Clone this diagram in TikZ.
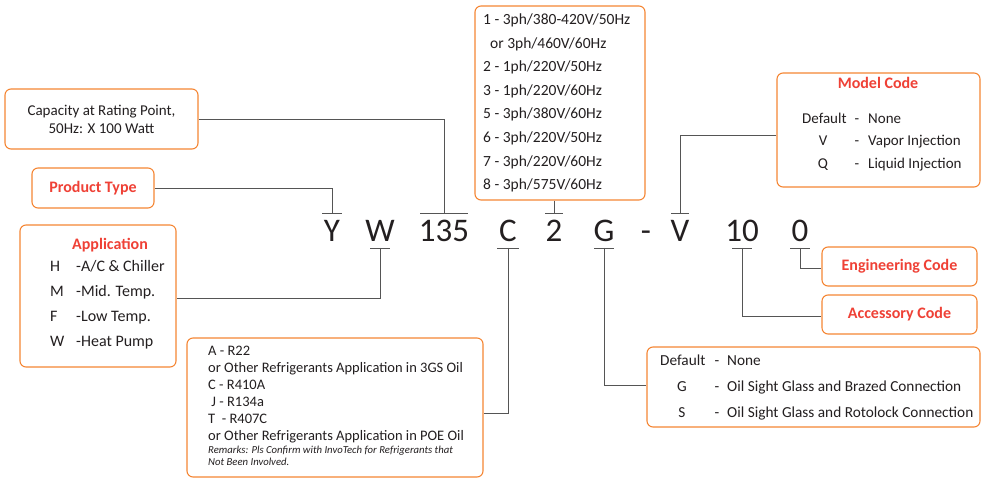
\documentclass[tikz,border=0pt]{standalone}
\usepackage{fontspec}
\setmainfont{Carlito}
\usetikzlibrary{calc, positioning}

\definecolor{boxorange}{HTML}{F58634}
\definecolor{titlered}{HTML}{EF4136}
\definecolor{linegray}{HTML}{555555}
\definecolor{textgray}{HTML}{231F20}

\begin{document}
\begin{tikzpicture}[
    x=1pt, y=-1pt,
    box/.style={draw=boxorange, line width=1.1pt, rounded corners=6pt, fill=white, align=center, text=textgray, font=\fontsize{15}{18}\selectfont},
    title/.style={text=titlered, font=\fontsize{16}{19}\selectfont\bfseries},
    row/.style={anchor=base west, inner sep=0pt, text=textgray, font=\fontsize{15}{18}\selectfont},
    key/.style={anchor=base, inner sep=0pt, text=textgray, font=\fontsize{15}{18}\selectfont},
    code/.style={anchor=base, inner sep=0pt, text=textgray, font=\fontsize{33}{36}\selectfont},
    link/.style={draw=linegray, line width=0.9pt}
]
    \useasboundingbox (0,0) rectangle (982,478);

    % Model string
    \node[code] (cY) at (332,242) {Y};
    \node[code] (cW) at (380,242) {W};
    \node[code] (cCap) at (444,242) {135};
    \node[code] (cC) at (508,242) {C};
    \node[code] (cV2) at (554,242) {2};
    \node[code] (cG) at (604,242) {G};
    \node[code] (cDash) at (646,242) {-};
    \node[code] (cV) at (680,242) {V};
    \node[code] (cAcc) at (742,242) {10};
    \node[code] (cEng) at (800,242) {0};

    % Bars above and below the string
    \coordinate (tY) at (332,213);
    \coordinate (tCap) at (444,213);
    \coordinate (tV2) at (554,213);
    \coordinate (tV) at (680,213);
    \coordinate (bW) at (380,248);
    \coordinate (bC) at (508,248);
    \coordinate (bG) at (604,248);
    \coordinate (bAcc) at (742,248);
    \coordinate (bEng) at (800,248);
    \foreach \c/\w in {tY/10, tCap/24, tV2/9, tV/9, bW/10, bC/11, bG/10, bAcc/10, bEng/10}
        \draw[link] ($(\c)+(-\w,0)$) -- ($(\c)+(\w,0)$);

    % Capacity
    \node[box, minimum width=193pt, minimum height=60pt] (capacity) at (101.5,119) {Capacity at Rating Point,\\50Hz: X 100 Watt};
    \draw[link] (capacity.east) -| (tCap);

    % Product type
    \node[box, minimum width=122pt, minimum height=40pt] (product) at (93,188) {};
    \node[title] at (product) {Product Type};
    \draw[link] (product.east) -| (tY);

    % Application
    \node[box, minimum width=156pt, minimum height=142pt] (application) at (98,296) {};
    \node[title] at (110,245) {Application};
    \foreach \k/\t [count=\i] in {H/{-A/C \& Chiller}, M/{-Mid. Temp.}, F/{-Low Temp.}, W/{-Heat Pump}} {
        \node[row, font=\fontsize{16}{19}\selectfont] at (50,{272+24.7*(\i-1)}) {\k};
        \node[row, font=\fontsize{16}{19}\selectfont] at (76,{272+24.7*(\i-1)}) {\t};
    }
    \draw[link] (bW) |- ([yshift=-2pt]application.east);

    % Refrigerant
    \node[box, minimum width=296pt, minimum height=139pt] (refrig) at (335,407.5) {};
    \node[row, font=\fontsize{14.5}{17}\selectfont] at (208,355.5) {A - R22};
    \node[row, font=\fontsize{14.5}{17}\selectfont] at (208,372.5) {or Other Refrigerants Application in 3GS Oil};
    \node[row, font=\fontsize{14.5}{17}\selectfont] at (208,389.5) {C - R410A};
    \node[row, font=\fontsize{14.5}{17}\selectfont] at (208,406.5) {\ J - R134a};
    \node[row, font=\fontsize{14.5}{17}\selectfont] at (208,423.5) {T \ - R407C};
    \node[row, font=\fontsize{14.5}{17}\selectfont] at (208,440.5) {or Other Refrigerants Application in POE Oil};
    \node[row, font=\fontsize{10.7}{12}\selectfont\itshape] at (208,453.5) {Remarks: Pls Confirm with InvoTech for Refrigerants that};
    \node[row, font=\fontsize{10.7}{12}\selectfont\itshape] at (208,465.5) {Not Been Involved.};
    \draw[link] (bC) |- ([yshift=-5.5pt]refrig.east);

    % Voltage
    \node[box, minimum width=170pt, minimum height=194pt] (volt) at (560,103) {};
    \foreach \t [count=\i] in {{1 - 3ph/380-420V/50Hz}, {\ \ or 3ph/460V/60Hz}, {2 - 1ph/220V/50Hz}, {3 - 1ph/220V/60Hz}, {5 - 3ph/380V/60Hz}, {6 - 3ph/220V/50Hz}, {7 - 3ph/220V/60Hz}, {8 - 3ph/575V/60Hz}}
        \node[row, font=\fontsize{15.5}{18}\selectfont] at (483,{24.5+23.6*(\i-1)}) {\t};
    \draw[link] (volt.south -| tV2) -- (tV2);

    % Model code
    \node[box, minimum width=203pt, minimum height=114pt] (model) at (878.5,130) {};
    \node[title] at (878,83) {Model Code};
    \node[row] at (802,123.5) {Default};
    \foreach \k/\t [count=\i] in {{}/None, V/Vapor Injection, Q/Liquid Injection} {
        \node[key] at (823,{123.5+22.5*(\i-1)}) {\k};
        \node[key] at (857,{123.5+22.5*(\i-1)}) {-};
        \node[row] at (868,{123.5+22.5*(\i-1)}) {\t};
    }
    \draw[link] ([yshift=-5pt]model.west) -| (tV);

    % Engineering and accessory code
    \node[box, minimum width=155pt, minimum height=39pt] (eng) at (899.5,266.5) {};
    \node[title] at (eng) {Engineering Code};
    \node[box, minimum width=155pt, minimum height=39pt] (acc) at (899.5,314.5) {};
    \node[title] at (acc) {Accessory Code};
    \draw[link] (bEng) |- ([yshift=-1.5pt]eng.west);
    \draw[link] (bAcc) |- ([yshift=-1.5pt]acc.west);

    % Oil sight glass
    \node[box, minimum width=333pt, minimum height=80pt] (oil) at (813.5,387) {};
    \node[row, font=\fontsize{15.3}{18}\selectfont] at (660,365) {Default};
    \foreach \k/\t [count=\i] in {{}/None, G/Oil Sight Glass and Brazed Connection, S/Oil Sight Glass and Rotolock Connection} {
        \node[key, font=\fontsize{15.3}{18}\selectfont] at (682,{365+26*(\i-1)}) {\k};
        \node[key, font=\fontsize{15.3}{18}\selectfont] at (717,{365+26*(\i-1)}) {-};
        \node[row, font=\fontsize{15.3}{18}\selectfont] at (727,{365+26*(\i-1)}) {\t};
    }
    \draw[link] (bG) |- ([yshift=2pt]oil.west);

\end{tikzpicture}
\end{document}
